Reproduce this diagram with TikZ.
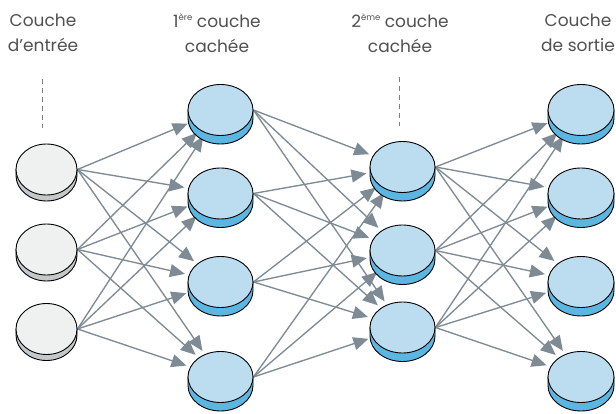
\documentclass[tikz,border=0pt]{standalone}
\usepackage{fontspec}
\setmainfont{Poppins}
\usetikzlibrary{arrows.meta,backgrounds,shapes.geometric}

\definecolor{inTop}{HTML}{EFF0F0}
\definecolor{inSide}{HTML}{C5C8CB}
\definecolor{hidTop}{HTML}{BCDDF0}
\definecolor{hidSide}{HTML}{5CB6E2}
\definecolor{wire}{HTML}{7E8B94}
\definecolor{capGray}{HTML}{505050}

% #1 name, #2 x, #3 y, #4 top colour, #5 side colour, #6 x radius, #7 thickness
\newcommand{\disk}[7]{%
  \fill[#5,draw=black,line width=0.9pt] (#2-#6,-#3) -- ++(0,-#7) arc[start angle=180,end angle=360,x radius=#6,y radius=\ry] -- ++(0,#7) -- cycle;
  \node[disk,fill=#4,minimum width=2*#6] (#1) at (#2,-#3) {};
}
\newcommand{\rang}[1]{\raisebox{0.7ex}{\fontsize{8.5}{8.5}\selectfont #1}}

\begin{document}
\begin{tikzpicture}[x=1pt,y=1pt,disk/.style={shape=ellipse,draw=black,line width=0.9pt,inner sep=0pt,minimum height=2*\ry},link/.style={draw=wire,line width=1.35pt,-{Triangle[length=15pt,width=13pt]},shorten >=4pt},caption/.style={align=center,text=capGray,font=\fontsize{17}{25}\selectfont},guide/.style={draw=gray,line width=0.8pt,dash pattern=on 5pt off 4pt}]
\def\ry{25.5};
\useasboundingbox (0,0) rectangle (616,-414);

% captions
\node[caption] (capI) at (43,-33) {Couche\\d’entrée};
\node[caption] (capA) at (217,-33) {1\rang{ère} couche\\cachée};
\node[caption] (capB) at (400,-33) {2\rang{ème} couche\\cachée};
\node[caption] (capO) at (578,-33) {Couche\\de sortie};

\draw[guide] (42,-79) -- (42,-128);
\draw[guide] (399,-77) -- (399,-126);

% layers
\foreach \n/\y in {1/169.5,2/249.5,3/329} {\disk{I\n}{46.5}{\y}{inTop}{inSide}{30.5}{6}}
\foreach \n/\y in {1/110,2/193.5,3/282,4/377} {\disk{A\n}{220.5}{\y}{hidTop}{hidSide}{32.5}{8.5}}
\foreach \n/\y in {1/167,2/250.5,3/327.5} {\disk{B\n}{402.5}{\y}{hidTop}{hidSide}{32.5}{8.5}}
\foreach \n/\y in {1/110,2/193.5,3/282,4/377} {\disk{O\n}{581}{\y}{hidTop}{hidSide}{33}{8.5}}

% connections
\begin{scope}[on background layer]
\foreach \a in {1,2,3} \foreach \b in {1,...,4} \draw[link] (I\a.east) -- (A\b);
\foreach \a in {1,...,4} \foreach \b in {1,2,3} \draw[link] (A\a.east) -- (B\b);
\foreach \a in {1,2,3} \foreach \b in {1,...,4} \draw[link] (B\a.east) -- (O\b);
\end{scope}
\end{tikzpicture}
\end{document}
